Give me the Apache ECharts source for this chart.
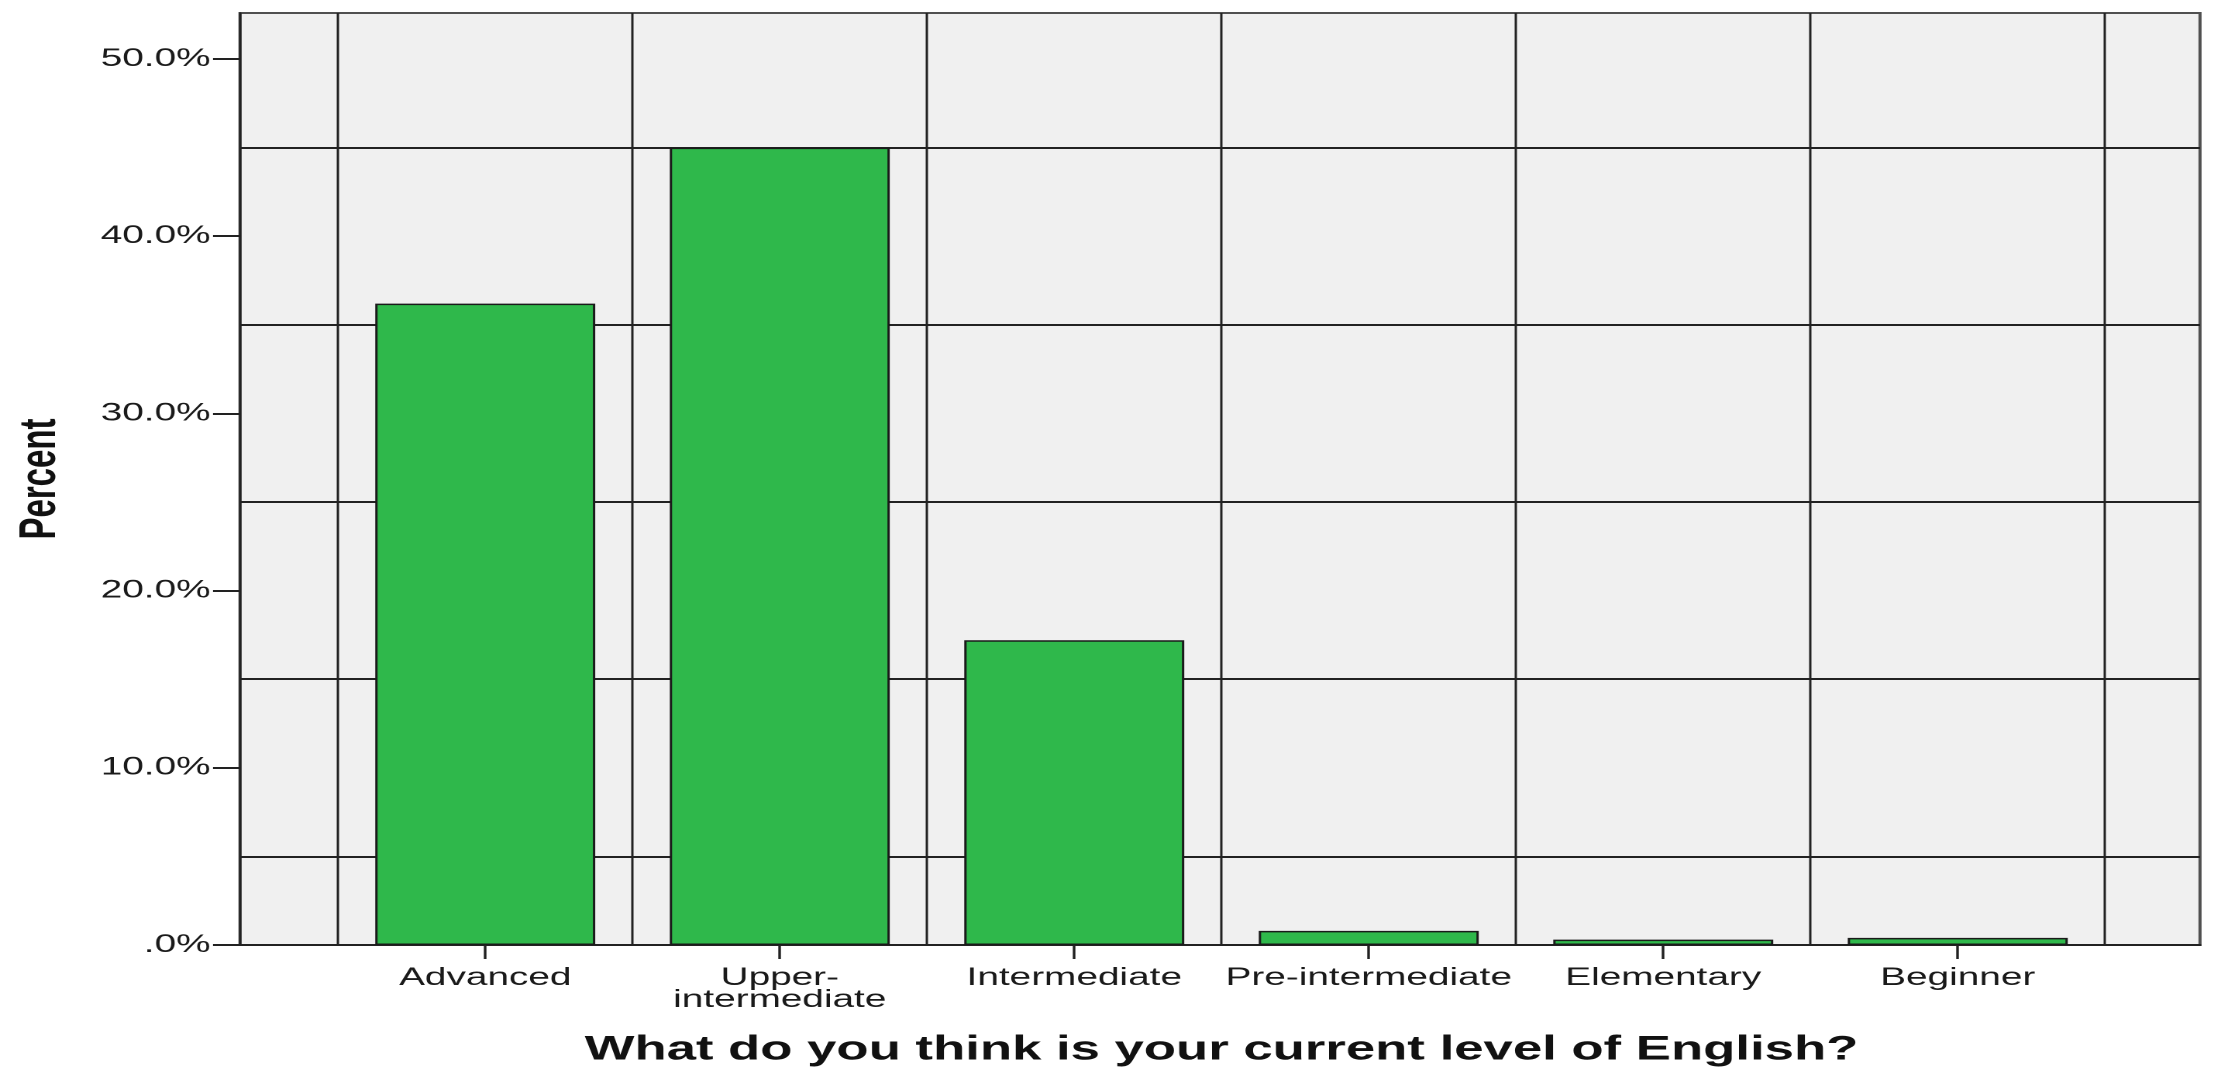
<!DOCTYPE html>
<html>
<head>
<meta charset="utf-8">
<script src="https://cdn.jsdelivr.net/npm/echarts@6/dist/echarts.min.js"></script>
<style>
html,body{margin:0;padding:0;background:#fff;overflow:hidden;}
#wrap{width:2221px;height:1072px;overflow:hidden;background:#fff;}
#chart{width:1433px;height:1072px;transform-origin:0 0;transform:scaleX(1.54989);}
</style>
</head>
<body>
<div id="wrap"><div id="chart"></div></div>
<script>
// ---- data ----
const categories = ['Advanced', 'Upper-\nintermediate', 'Intermediate', 'Pre-intermediate', 'Elementary', 'Beginner'];
const percentValues = [36.2, 45.0, 17.2, 0.8, 0.3, 0.4];
const yTickLabels = ['.0%', '10.0%', '20.0%', '30.0%', '40.0%', '50.0%'];
const yAxisTitle = 'Percent';
const xAxisTitle = 'What do you think is your current level of English?';

// ---- layout (unstretched chart space; container is stretched horizontally) ----
const Y_MAX = 52.6;
const FONT = '"Liberation Sans", Arial, sans-serif';
const LINE = '#222222';

const chart = echarts.init(document.getElementById('chart'), null, {renderer: 'canvas', devicePixelRatio: 2});

chart.setOption({
  animation: false,
  backgroundColor: '#ffffff',
  grid: [
    {left: 154.85, right: 13.55, top: 13, bottom: 127, show: true, backgroundColor: '#f0f0f0', borderColor: '#505050', borderWidth: 2, containLabel: false},
    {left: 154.85, right: 13.55, top: 13, bottom: 215.6, show: false, containLabel: false},
    {left: 218.08, right: 74.85, top: 13, bottom: 127, show: false, containLabel: false},
    {left: 154.85, right: 13.55, top: 59, bottom: 127, show: false, containLabel: false}
  ],
  xAxis: [
    {gridIndex: 0, type: 'value', min: 0, max: 1,
     axisLine: {show: true, lineStyle: {color: LINE, width: 2}},
     axisTick: {show: false}, axisLabel: {show: false}, splitLine: {show: false}},
    {gridIndex: 1, type: 'value', min: 0, max: 1, show: false},
    {gridIndex: 2, type: 'category', data: categories, boundaryGap: true,
     axisLine: {show: false},
     axisTick: {show: true, alignWithLabel: true, length: 14, interval: 0, lineStyle: {color: LINE, width: 1.7}},
     axisLabel: {show: true, interval: 0, margin: 22, color: '#1a1a1a', fontFamily: FONT, fontSize: 25, lineHeight: 22},
     splitLine: {show: true, interval: 0, lineStyle: {color: LINE, width: 1.5}},
     name: xAxisTitle, nameLocation: 'middle', nameGap: 88,
     nameTextStyle: {color: '#111', fontFamily: FONT, fontSize: 34, fontWeight: 'bold'}},
    {gridIndex: 3, type: 'value', min: 0, max: 1, show: false}
  ],
  yAxis: [
    {gridIndex: 0, type: 'value', min: 0, max: Y_MAX,
     axisLine: {show: true, lineStyle: {color: LINE, width: 1.6}},
     axisTick: {show: false}, axisLabel: {show: false}, splitLine: {show: false},
     name: yAxisTitle, nameLocation: 'middle', nameGap: 112, nameRotate: 90,
     nameTextStyle: {color: '#111', fontFamily: FONT, fontSize: 33, fontWeight: 'bold'}},
    {gridIndex: 1, type: 'value', min: 5, max: Y_MAX, interval: 10,
     axisLine: {show: false}, axisTick: {show: false}, axisLabel: {show: false},
     splitLine: {show: true, showMaxLine: false, lineStyle: {color: LINE, width: 2}}},
    {gridIndex: 2, type: 'value', min: 0, max: Y_MAX, show: false},
    {gridIndex: 3, type: 'value', min: 0, max: 50, interval: 10,
     axisLine: {show: false},
     axisTick: {show: true, length: 17.4, lineStyle: {color: LINE, width: 2}},
     axisLabel: {show: true, margin: 19, color: '#1a1a1a', fontFamily: FONT, fontSize: 25,
                 formatter: function (v) { return yTickLabels[Math.round(v / 10)]; }},
     splitLine: {show: false}}
  ],
  series: [
    {type: 'bar', xAxisIndex: 2, yAxisIndex: 2, data: percentValues,
     barCategoryGap: '25.3%',
     itemStyle: {color: '#2fb84b', borderColor: '#1a1a1a', borderWidth: 1.5},
     emphasis: {disabled: true}, silent: true}
  ]
});
</script>
</body>
</html>
